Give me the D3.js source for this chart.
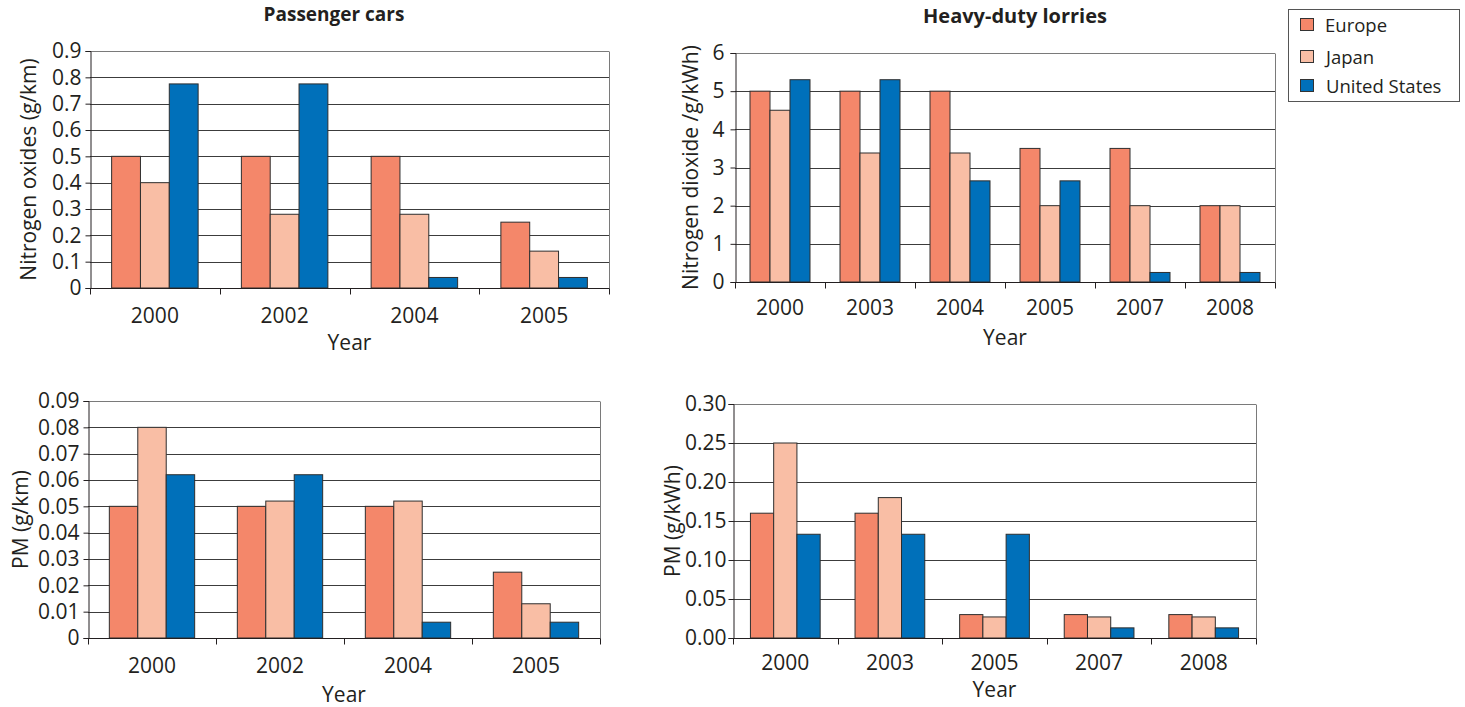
<!DOCTYPE html>
<html>
<head>
<meta charset="utf-8">
<script src="https://cdn.jsdelivr.net/npm/d3@7"></script>
<style>
  html, body { margin: 0; padding: 0; background: #fff; }
  svg { display: block; font-family: "Open Sans", "Noto Sans", sans-serif; }
</style>
</head>
<body>
<svg id="chart" width="1465" height="707"></svg>
<script>
// ---------- DATA ----------
const seriesNames = ["Europe", "Japan", "United States"];
const seriesColors = ["#f4876a", "#f9bea5", "#0070ba"];

// Passenger cars – nitrogen oxides (g/km)
const carNoxYears = ["2000", "2002", "2004", "2005"];
const carNoxEurope = [0.5, 0.5, 0.5, 0.25];
const carNoxJapan = [0.4, 0.28, 0.28, 0.14];
const carNoxUS = [0.775, 0.775, 0.04, 0.04];
const carNoxTicks = [0, 0.1, 0.2, 0.3, 0.4, 0.5, 0.6, 0.7, 0.8, 0.9];
const carNoxTickLabels = ["0", "0.1", "0.2", "0.3", "0.4", "0.5", "0.6", "0.7", "0.8", "0.9"];

// Heavy-duty lorries – nitrogen dioxide (g/kWh)
const lorryNoxYears = ["2000", "2003", "2004", "2005", "2007", "2008"];
const lorryNoxEurope = [5, 5, 5, 3.5, 3.5, 2];
const lorryNoxJapan = [4.5, 3.38, 3.38, 2, 2, 2];
const lorryNoxUS = [5.3, 5.3, 2.65, 2.65, 0.25, 0.25];
const lorryNoxTicks = [0, 1, 2, 3, 4, 5, 6];
const lorryNoxTickLabels = ["0", "1", "2", "3", "4", "5", "6"];

// Passenger cars – PM (g/km)
const carPmYears = ["2000", "2002", "2004", "2005"];
const carPmEurope = [0.05, 0.05, 0.05, 0.025];
const carPmJapan = [0.08, 0.052, 0.052, 0.013];
const carPmUS = [0.062, 0.062, 0.006, 0.006];
const carPmTicks = [0, 0.01, 0.02, 0.03, 0.04, 0.05, 0.06, 0.07, 0.08, 0.09];
const carPmTickLabels = ["0", "0.01", "0.02", "0.03", "0.04", "0.05", "0.06", "0.07", "0.08", "0.09"];

// Heavy-duty lorries – PM (g/kWh)
const lorryPmYears = ["2000", "2003", "2005", "2007", "2008"];
const lorryPmEurope = [0.16, 0.16, 0.03, 0.03, 0.03];
const lorryPmJapan = [0.25, 0.18, 0.027, 0.027, 0.027];
const lorryPmUS = [0.133, 0.133, 0.133, 0.013, 0.013];
const lorryPmTicks = [0, 0.05, 0.10, 0.15, 0.20, 0.25, 0.30];
const lorryPmTickLabels = ["0.00", "0.05", "0.10", "0.15", "0.20", "0.25", "0.30"];

const titles = ["Passenger cars", "Heavy-duty lorries"];
const xTitle = "Year";

// ---------- DRAWING ----------
const svg = d3.select("#chart");
const textColor = "#231f20";
const FS = 21;

function drawPanel(opt) {
  const { left, right, top, bottom, years, values, ticks, tickLabels, yLabel, yLabelX, labelGap, xLabelY, yearY } = opt;
  const g = svg.append("g");
  const maxV = ticks[ticks.length - 1];
  const y = d3.scaleLinear().domain([0, maxV]).range([bottom, top]);
  const x0 = d3.scaleBand().domain(years).range([left, right]).paddingInner(0).paddingOuter(0);
  const x1 = d3.scaleBand().domain(seriesNames).range([0, x0.bandwidth()]).paddingInner(0).paddingOuter(0.75);

  // gridlines
  g.append("g").selectAll("line").data(ticks.slice(1)).join("line")
    .attr("x1", left).attr("x2", right)
    .attr("y1", d => Math.round(y(d)) + 0.5).attr("y2", d => Math.round(y(d)) + 0.5)
    .attr("stroke", d => d === maxV ? "#7a7a7a" : "#3c3c3c").attr("stroke-width", 1);

  // right border
  g.append("line")
    .attr("x1", Math.round(right) + 0.5).attr("x2", Math.round(right) + 0.5)
    .attr("y1", Math.round(top) + 0.5).attr("y2", Math.round(bottom) + 6)
    .attr("stroke", "#7a7a7a");

  // bars
  const rows = years.map((yr, i) => ({ yr, vals: values.map(s => s[i]) }));
  const grp = g.append("g").selectAll("g").data(rows).join("g")
    .attr("transform", d => `translate(${x0(d.yr)},0)`);
  grp.selectAll("rect").data(d => d.vals.map((v, k) => ({ v, k }))).join("rect")
    .attr("x", d => x1(seriesNames[d.k]))
    .attr("width", x1.bandwidth())
    .attr("y", d => y(d.v))
    .attr("height", d => y(0) - y(d.v))
    .attr("fill", d => seriesColors[d.k])
    .attr("stroke", "#2e2e2e")
    .attr("stroke-width", 1);

  // y axis
  const yAxis = d3.axisLeft(y).tickValues(ticks).tickFormat((d, i) => tickLabels[i]).tickSize(5).tickPadding(labelGap);
  const ya = g.append("g").attr("transform", `translate(${Math.round(left) + 0.5},0)`).call(yAxis);
  ya.select(".domain").attr("stroke", "#231f20");
  ya.selectAll(".tick line").attr("stroke", "#231f20");
  ya.selectAll(".tick text").attr("font-size", FS).attr("fill", textColor)
    .attr("font-family", '"Open Sans", sans-serif');

  // x axis with tick marks at category boundaries
  const xa = g.append("g").attr("transform", `translate(0,${Math.round(bottom) + 0.5})`);
  xa.append("line").attr("x1", left).attr("x2", right).attr("stroke", "#231f20");
  const bounds = years.map(d => x0(d)).concat([right]);
  xa.selectAll("line.tk").data(bounds).join("line").attr("class", "tk")
    .attr("x1", d => Math.round(d) + 0.5).attr("x2", d => Math.round(d) + 0.5)
    .attr("y1", 0).attr("y2", 6).attr("stroke", "#231f20");
  xa.selectAll("text").data(years).join("text")
    .attr("x", d => x0(d) + x0.bandwidth() / 2)
    .attr("y", xLabelY - Math.round(bottom))
    .attr("text-anchor", "middle")
    .attr("font-size", FS).attr("fill", textColor)
    .text(d => d);

  // axis titles
  g.append("text")
    .attr("transform", `translate(${yLabelX},${(top + bottom) / 2}) rotate(-90)`)
    .attr("text-anchor", "middle").attr("dominant-baseline", "central")
    .attr("font-size", FS).attr("fill", textColor)
    .text(yLabel);
  g.append("text")
    .attr("x", (left + right) / 2).attr("y", yearY)
    .attr("text-anchor", "middle")
    .attr("font-size", FS).attr("fill", textColor)
    .text(xTitle);
}

drawPanel({
  left: 90, right: 609, top: 51, bottom: 288,
  years: carNoxYears, values: [carNoxEurope, carNoxJapan, carNoxUS],
  ticks: carNoxTicks, tickLabels: carNoxTickLabels,
  yLabel: "Nitrogen oxides (g/km)", yLabelX: 28, labelGap: 4, xLabelY: 322, yearY: 350
});
drawPanel({
  left: 735, right: 1275, top: 53, bottom: 282,
  years: lorryNoxYears, values: [lorryNoxEurope, lorryNoxJapan, lorryNoxUS],
  ticks: lorryNoxTicks, tickLabels: lorryNoxTickLabels,
  yLabel: "Nitrogen dioxide /g/kWh)", yLabelX: 690, labelGap: 6, xLabelY: 314, yearY: 345
});
drawPanel({
  left: 88, right: 600, top: 401, bottom: 638,
  years: carPmYears, values: [carPmEurope, carPmJapan, carPmUS],
  ticks: carPmTicks, tickLabels: carPmTickLabels,
  yLabel: "PM (g/km)", yLabelX: 20, labelGap: 4, xLabelY: 672, yearY: 702
});
drawPanel({
  left: 733, right: 1256, top: 404, bottom: 638,
  years: lorryPmYears, values: [lorryPmEurope, lorryPmJapan, lorryPmUS],
  ticks: lorryPmTicks, tickLabels: lorryPmTickLabels,
  yLabel: "PM (g/kWh)", yLabelX: 672, labelGap: 2, xLabelY: 669, yearY: 697
});

// titles
svg.append("text").attr("x", 334).attr("y", 21).attr("text-anchor", "middle")
  .attr("font-size", 19).attr("font-weight", "bold").attr("fill", textColor).text(titles[0]);
svg.append("text").attr("x", 1015).attr("y", 23).attr("text-anchor", "middle")
  .attr("font-size", 20).attr("font-weight", "bold").attr("fill", textColor).text(titles[1]);

// legend
const lg = svg.append("g");
lg.append("rect").attr("x", 1288.5).attr("y", 9.5).attr("width", 171).attr("height", 92)
  .attr("fill", "#fff").attr("stroke", "#555");
const legendRows = [24.5, 56.5, 85.5];
seriesNames.forEach((name, i) => {
  lg.append("rect").attr("x", 1300.5).attr("y", legendRows[i] - 6).attr("width", 13).attr("height", 12)
    .attr("fill", seriesColors[i]).attr("stroke", "#333");
  lg.append("text").attr("x", i === 0 ? 1325 : 1326).attr("y", legendRows[i])
    .attr("dominant-baseline", "central").attr("font-size", 18.5).attr("fill", textColor).text(name);
});
</script>
</body>
</html>
